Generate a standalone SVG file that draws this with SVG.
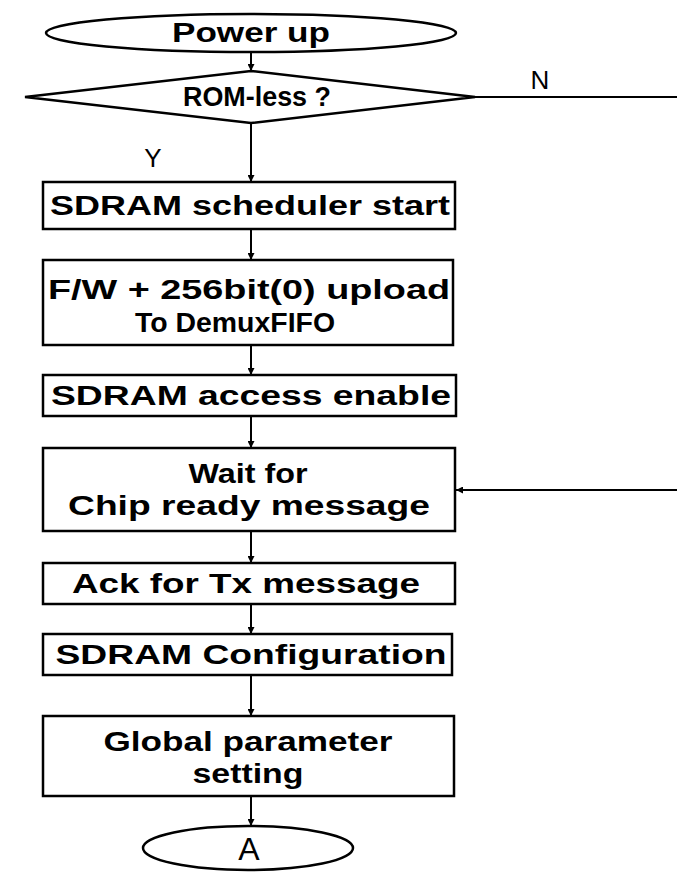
<svg xmlns="http://www.w3.org/2000/svg" width="677" height="882" viewBox="0 0 677 882">
<style>
.shape{fill:#fff;stroke:#000;stroke-width:2.5}
.t{font-family:"Liberation Sans",Arial,sans-serif;font-weight:bold;font-size:27px;fill:#000;text-anchor:middle;dominant-baseline:central}
.lbl{font-family:"Liberation Sans",Arial,sans-serif;font-size:26px;fill:#000;text-anchor:middle;dominant-baseline:central}
.big{font-size:32px}
.c{fill:none;stroke:#000;stroke-width:2}
</style>
<defs>
<marker id="ah" viewBox="0 0 10 10" refX="10" refY="5" markerWidth="7" markerHeight="7" orient="auto-start-reverse" markerUnits="userSpaceOnUse">
<path d="M0,0 L10,5 L0,10 z" fill="#000"/>
</marker>
</defs>
<rect width="677" height="882" fill="#fff"/>
<g id="connectors">
<line class="c" x1="251" y1="52" x2="251" y2="71" marker-end="url(#ah)"/>
<line class="c" x1="475" y1="97" x2="677" y2="97"/>
<line class="c" x1="251" y1="123" x2="251" y2="182" marker-end="url(#ah)"/>
<line class="c" x1="251" y1="229" x2="251" y2="260" marker-end="url(#ah)"/>
<line class="c" x1="251" y1="345" x2="251" y2="375" marker-end="url(#ah)"/>
<line class="c" x1="251" y1="416" x2="251" y2="448" marker-end="url(#ah)"/>
<line class="c" x1="677" y1="490" x2="456" y2="490" marker-end="url(#ah)"/>
<line class="c" x1="251" y1="531" x2="251" y2="563" marker-end="url(#ah)"/>
<line class="c" x1="251" y1="604" x2="251" y2="634" marker-end="url(#ah)"/>
<line class="c" x1="251" y1="675" x2="251" y2="716" marker-end="url(#ah)"/>
<line class="c" x1="251" y1="796" x2="251" y2="826" marker-end="url(#ah)"/>
<text class="lbl" x="540" y="80">N</text>
<text class="lbl" x="153" y="158">Y</text>
</g>
<g id="power-up">
<ellipse class="shape" cx="251" cy="33" rx="205" ry="19"/>
<text class="t" x="251" y="33" textLength="158" lengthAdjust="spacingAndGlyphs">Power up</text>
</g>
<g id="rom-less">
<polygon class="shape" points="251,71 475,97 251,123 25,97"/>
<text class="t" x="257" y="97" textLength="148" lengthAdjust="spacingAndGlyphs">ROM-less ?</text>
</g>
<g id="sched-start">
<rect class="shape" x="43" y="182" width="412" height="47"/>
<text class="t" x="250" y="206" textLength="400" lengthAdjust="spacingAndGlyphs">SDRAM scheduler start</text>
</g>
<g id="fw-upload">
<rect class="shape" x="43" y="260" width="410" height="85"/>
<text class="t" x="249" y="290" textLength="402" lengthAdjust="spacingAndGlyphs">F/W + 256bit(0) upload</text>
<text class="t" x="235" y="323" textLength="200" lengthAdjust="spacingAndGlyphs">To DemuxFIFO</text>
</g>
<g id="access-enable">
<rect class="shape" x="43" y="375" width="413" height="41"/>
<text class="t" x="251" y="396" textLength="400" lengthAdjust="spacingAndGlyphs">SDRAM access enable</text>
</g>
<g id="wait-ready">
<rect class="shape" x="43" y="448" width="412" height="83"/>
<text class="t" x="248" y="474" textLength="119" lengthAdjust="spacingAndGlyphs">Wait for</text>
<text class="t" x="249" y="506" textLength="362" lengthAdjust="spacingAndGlyphs">Chip ready message</text>
</g>
<g id="ack-tx">
<rect class="shape" x="43" y="563" width="412" height="41"/>
<text class="t" x="246" y="584" textLength="348" lengthAdjust="spacingAndGlyphs">Ack for Tx message</text>
</g>
<g id="sdram-config">
<rect class="shape" x="43" y="634" width="409" height="41"/>
<text class="t" x="251" y="655" textLength="391" lengthAdjust="spacingAndGlyphs">SDRAM Configuration</text>
</g>
<g id="global-param">
<rect class="shape" x="43" y="716" width="411" height="80"/>
<text class="t" x="248" y="742" textLength="289" lengthAdjust="spacingAndGlyphs">Global parameter</text>
<text class="t" x="248" y="774" textLength="111" lengthAdjust="spacingAndGlyphs">setting</text>
</g>
<g id="end-a">
<ellipse class="shape" cx="248" cy="848" rx="105" ry="22"/>
<text class="lbl big" x="249" y="849">A</text>
</g>
</svg>
